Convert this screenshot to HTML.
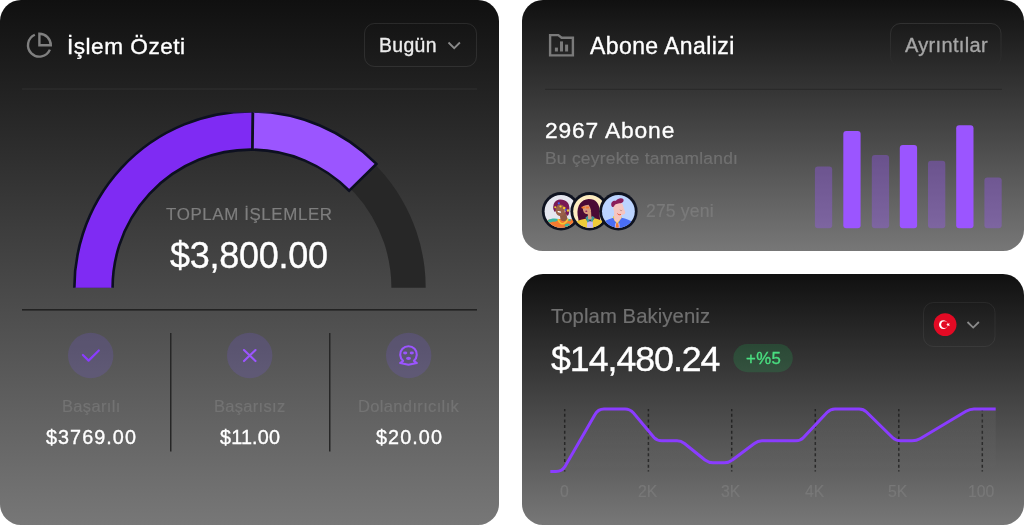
<!DOCTYPE html>
<html lang="tr"><head><meta charset="utf-8"><title>Dashboard</title>
<style>
html,body{margin:0;padding:0;}
body{width:1024px;height:525px;background:#fff;position:relative;overflow:hidden;font-family:"Liberation Sans",sans-serif;}
.card{position:absolute;border-radius:21px;background:linear-gradient(180deg,#101010 0%,#777777 100%);overflow:hidden;}
.t{position:absolute;white-space:nowrap;line-height:1;transform:scale(0.5);transform-origin:0 0;}
#txt{position:absolute;left:0;top:0;width:1024px;height:525px;will-change:transform;}
.abs{position:absolute;}
svg{position:absolute;overflow:visible;}
</style></head><body>

<div class="card" style="left:0;top:0;width:499px;height:525px;"></div>
<div class="card" style="left:522px;top:0;width:502px;height:251px;"></div>
<div class="card" style="left:522px;top:274px;width:502px;height:251px;"></div>
<svg width="1024" height="525" viewBox="0 0 1024 525" style="left:0;top:0;">
<rect x="22" y="88.5" width="455" height="1" fill="#ffffff" fill-opacity="0.07"/>
<g transform="translate(25.72,31.52) scale(1.14)" fill="none" stroke="#808080" stroke-width="2.1" stroke-linecap="butt" stroke-linejoin="miter"><path d="M21.21 15.89A10 10 0 1 1 8 2.83"/><path d="M22 12A10 10 0 0 0 12 2v10z"/></g>
<rect x="364.5" y="23.5" width="112" height="43" rx="10" fill="none" stroke="#ffffff" stroke-opacity="0.09"/>
<path d="M448.5 42.5 L454.2 48.2 L459.9 42.5" fill="none" stroke="#8a8a8a" stroke-width="1.8"/>
<clipPath id="gclip"><rect x="0" y="112.2" width="499" height="175.5"/></clipPath>
<g clip-path="url(#gclip)">
<path d="M76.57 303.04 A174.9 174.9 0 1 1 425.03 303.04 L390.86 300.05 A140.6 140.6 0 1 0 110.74 300.05 Z" fill="#272727"/>
<path d="M75.07 303.17 A176.4 176.4 0 0 1 252.96 111.41 L252.49 149.61 A138.2 138.2 0 0 0 113.13 299.84 Z" fill="#7f2bf3" stroke="#0d1020" stroke-width="2.6" stroke-linejoin="miter"/>
<path d="M252.96 111.41 A176.4 176.4 0 0 1 376.40 163.94 L349.20 190.76 A138.2 138.2 0 0 0 252.49 149.61 Z" fill="#9b55ff" stroke="#0d1020" stroke-width="2.6" stroke-linejoin="miter"/>
</g>
<rect x="22" y="309" width="455" height="1.6" fill="#222222"/>
<rect x="170" y="333" width="1.5" height="118.5" fill="#262626"/>
<rect x="329" y="333" width="1.5" height="118.5" fill="#262626"/>
<circle cx="90.7" cy="355.5" r="22.7" fill="#7f56ff" fill-opacity="0.17"/>
<circle cx="249.7" cy="355.5" r="22.7" fill="#7f56ff" fill-opacity="0.17"/>
<circle cx="408.7" cy="355.5" r="22.7" fill="#7f56ff" fill-opacity="0.17"/>
<path d="M82.9 355 L88.6 360.6 L98.8 350.5" fill="none" stroke="#8a3cff" stroke-width="2.2" stroke-linecap="round" stroke-linejoin="round"/>
<path d="M244 350 L255.5 361.1 M255.5 350 L244 361.1" fill="none" stroke="#9b55ff" stroke-width="2.1" stroke-linecap="round"/>
<path d="M400.1 363 L403.1 360.8 A8.3 8.3 0 1 1 413.9 360.8 L416.9 363 L408.5 364.7 Z" fill="none" stroke="#9b55ff" stroke-width="2.1" stroke-linejoin="round"/>
<ellipse cx="405.2" cy="353" rx="2.1" ry="1.45" fill="#9b55ff"/><ellipse cx="411.8" cy="353" rx="2.1" ry="1.45" fill="#9b55ff"/><ellipse cx="408.5" cy="358.3" rx="2.5" ry="1.6" fill="#9b55ff"/>
<rect x="545" y="88.8" width="457" height="1" fill="#1a1a1a" fill-opacity="0.45"/>
<path d="M550.1 35.1 H558.3 L561.6 37.8 H572.9 V55.4 H550.1 Z" fill="none" stroke="#7a7a7a" stroke-width="2.4" stroke-linejoin="miter"/>
<rect x="554.9" y="47.6" width="3" height="3.9" fill="#7a7a7a"/><rect x="560" y="41.4" width="3" height="10.1" fill="#7a7a7a"/><rect x="565.1" y="44.6" width="3" height="6.9" fill="#7a7a7a"/>
<defs><linearGradient id="fadeb" x1="0" y1="0" x2="0" y2="1"><stop offset="0" stop-color="#fff" stop-opacity="0.1"/><stop offset="1" stop-color="#fff" stop-opacity="0.0"/></linearGradient></defs>
<rect x="890.5" y="23.5" width="110.5" height="43" rx="10" fill="none" stroke="url(#fadeb)"/>
<rect x="814.9" y="166.4" width="17.3" height="61.9" rx="3" fill="#9b55ff" fill-opacity="0.35"/>
<rect x="843.3" y="131" width="17.3" height="97.3" rx="3" fill="#9b55ff"/>
<rect x="871.8" y="155" width="17.3" height="73.3" rx="3" fill="#9b55ff" fill-opacity="0.35"/>
<rect x="899.8" y="145.1" width="17.3" height="83.2" rx="3" fill="#9b55ff"/>
<rect x="928" y="160.7" width="17.3" height="67.6" rx="3" fill="#9b55ff" fill-opacity="0.35"/>
<rect x="956.2" y="125.3" width="17.3" height="103.0" rx="3" fill="#9b55ff"/>
<rect x="984.4" y="177.6" width="17.3" height="50.7" rx="3" fill="#9b55ff" fill-opacity="0.35"/>
<g transform="translate(561,211.3)"><circle r="19.2" fill="#0f1320"/><clipPath id="c561"><circle r="16.4"/></clipPath><circle r="16.4" fill="#e6e7f0"/><g clip-path="url(#c561)"><g transform="translate(0,-4.300)"><path d="M-16 14 C-12 12 -6 12 -2 12 L8 12 C12 12 15 14 17 16 L17 26 L-17 26Z" fill="#f47a30"/>
<path d="M-13.500 13.500 C-10 11 -5 11.500 -2.500 12 C-3 14.500 -6 15 -8 14.500 C-10 16 -13 15.500 -14.500 14.500Z" fill="#3bb5a0"/>
<path d="M4 17.500 C6 16 8.500 16.500 9 18 L6 20 L3.500 19Z" fill="#3bb5a0"/>
<path d="M6 12 C8 11.500 9.500 12.500 10 14 L7 13.500Z" fill="#3bb5a0"/>
<path d="M-1.500 6 L-0.500 12.500 C1 15 5 14.500 6.500 12 L5 5Z" fill="#8f5a44"/>
<path d="M-3 12 C-2 16 1 17.500 3 16.500 C5.500 15.500 6.500 13.500 7 11.800" fill="none" stroke="#f2c830" stroke-width="1.500"/></g>
<path d="M-7 -1 C-9 -7 -6 -11.500 -1 -11.800 C5 -12 8.500 -8 8.400 -3 C8.400 1 8 4 6.500 4.500 C5 4 4.500 1 4 -2 L-3 -5 L-5.500 0.500Z" fill="#7a1a55"/>
<path d="M-5.500 -5 C-4 -7 0 -7.500 2 -6 C4 -4 4.500 0 3 3 C1.500 5.500 -2 5 -3.800 3.500 C-5.500 2 -6 -2 -5.500 -5Z" fill="#9a6048"/>
<path d="M-7.500 -2 C-8 -6 -5 -9 -2 -8 C-3 -6 -5 -5 -5.500 -2 L-6.500 1Z" fill="#7a1a55"/>
<circle cx="-0.500" cy="-4.800" r="1.100" fill="#f2c830"/><circle cx="3.200" cy="-3.300" r="1.300" fill="#f2c830"/><circle cx="7" cy="-0.800" r="1.200" fill="#f2c830"/><circle cx="-5.800" cy="-4" r="1" fill="#f2c830"/>
<circle cx="-2.200" cy="-8" r="1.100" fill="#3d5ef0"/><circle cx="4.800" cy="-1.600" r="0.900" fill="#3d5ef0"/>
<path d="M-2.800 0.300 L-0.500 0.900" stroke="#fff" stroke-width="1.300" stroke-linecap="round"/></g></g>
<g transform="translate(589.6,211.3)"><circle r="19.2" fill="#0f1320"/><clipPath id="c589"><circle r="16.4"/></clipPath><circle r="16.4" fill="#fdecc0"/><g clip-path="url(#c589)"><path d="M-12 4 C-13 -6 -8 -12 -1 -12.300 C6 -12.500 10 -8 10 0 C10 5 10.500 8 11 11 L-11.500 11 C-10.500 9 -11.500 7 -12 4Z" fill="#4a0a35"/>
<path d="M-17 20 L-17 12 C-12 9 -7 8 -4 7.500 L0 13 L4.800 7 C9 8 13 9 17 12 L17 20Z" fill="#f0cc3a"/>
<path d="M-2.400 10 L3.200 10 L3.500 20 L-2.800 20Z" fill="#c5b9f7"/>
<path d="M-4.200 6.500 L-1.800 11.500 L0.500 8.500 L2.500 11 L5 6 L2 4.500 L-2 4.500Z" fill="#3f9d9a"/>
<path d="M-1.800 1 L-1.500 8 L2 8 L1.800 0Z" fill="#d99a7a"/>
<path d="M-6.800 -4 C-7 -7 -3 -8 0 -7 C2 -5 2 0 0.500 2 C-1 3.500 -4.500 3 -5.800 1 C-6.500 -0.500 -6.800 -2 -6.800 -4Z" fill="#d99a7a"/>
<rect x="-8.200" y="-4.900" width="3.600" height="2.100" rx="1" fill="#f47a30"/><rect x="-4" y="-4.900" width="3.600" height="2.100" rx="1" fill="#f47a30"/>
<path d="M-7 -5 C-6 -9 -1 -10 3 -7 C5 -3 4 3 2 6 C2 1 1.500 -3 -1 -6.500 C-3 -6.500 -5 -6 -7 -5Z" fill="#4a0a35"/>
<ellipse cx="-3.300" cy="-0.100" rx="1.100" ry="0.700" fill="#8a1a60"/></g></g>
<g transform="translate(618.4,211.3)"><circle r="19.2" fill="#0f1320"/><clipPath id="c618"><circle r="16.4"/></clipPath><circle r="16.4" fill="#bcd4ff"/><g clip-path="url(#c618)"><path d="M-17 20 L-17 12 C-12 8.500 -8 7.500 -5 6.500 L-1 12.500 L3 6.500 C8 7.500 12 9 17 12 L17 20Z" fill="#4a6ef5"/>
<path d="M-3.200 12 L1 12 L1.800 20 L-4 20Z" fill="#c5b9f7"/>
<path d="M-5.600 6 L-1.200 13 L3.400 6 L2 4 L-4 4Z" fill="#f0cc3a"/>
<path d="M-2.200 12 L-0.200 12 L0.300 15 L-0.500 20 L-2 20 L-2.600 15Z" fill="#f47a30"/>
<path d="M-4.400 0 L-4.200 9 L-1.200 11.500 L2.800 7 L2.500 2Z" fill="#f5c5c0"/>
<path d="M-5.200 -5 C-5 -8.500 1 -9 4 -7.500 C5 -5 5.500 -2 6.800 0.500 C7.200 2.500 6 3.300 4.300 3.300 C3 4.800 0 5.200 -2 4 C-4 2.500 -5 -1 -5.200 -5Z" fill="#f5c5c0"/>
<path d="M-7 -5.500 C-8 -9.500 -5 -11 -2.500 -10.500 C-1 -13 3 -13.800 4.800 -12.300 C6 -10.500 4.500 -8.500 2 -8 C-0.500 -7.800 -3.500 -7.500 -4.300 -5 C-4.800 -4 -6.500 -4 -7 -5.500Z" fill="#8a1d5a"/>
<path d="M-1 2.300 C0 3.600 1.500 3.800 2.600 3" fill="none" stroke="#e8503a" stroke-width="1"/>
<path d="M1.500 -1.500 C2.200 -0.500 3.200 -0.500 3.800 -1.200" fill="none" stroke="#a06a70" stroke-width="0.600"/></g></g>
<rect x="923.5" y="302.5" width="71.5" height="44" rx="10" fill="none" stroke="#ffffff" stroke-opacity="0.06"/>
<circle cx="945.1" cy="324.6" r="11.4" fill="#e30a24"/>
<circle cx="943.3" cy="324.6" r="4.3" fill="#fff"/><circle cx="944.6" cy="324.6" r="3.4" fill="#e30a24"/>
<polygon points="946.10,324.60 947.52,324.11 947.55,322.60 948.46,323.80 949.90,323.37 949.04,324.60 949.90,325.83 948.46,325.40 947.55,326.60 947.52,325.09" fill="#fff"/>
<path d="M967.5 322 L973.2 327.600 L978.900 322" fill="none" stroke="#8a8a8a" stroke-width="1.800"/>
<rect x="733.3" y="344" width="59.500" height="28.200" rx="14.100" fill="#22c55e" fill-opacity="0.18"/>
<line x1="564.7" y1="409" x2="564.7" y2="471.500" stroke="#1a1a1a" stroke-opacity="0.78" stroke-width="1.500" stroke-dasharray="3 2.65" stroke-dashoffset="0.85"/>
<line x1="648.4" y1="409" x2="648.4" y2="471.500" stroke="#1a1a1a" stroke-opacity="0.78" stroke-width="1.500" stroke-dasharray="3 2.65" stroke-dashoffset="0.85"/>
<line x1="731.7" y1="409" x2="731.7" y2="471.500" stroke="#1a1a1a" stroke-opacity="0.78" stroke-width="1.500" stroke-dasharray="3 2.65" stroke-dashoffset="0.85"/>
<line x1="815.3" y1="409" x2="815.3" y2="471.500" stroke="#1a1a1a" stroke-opacity="0.78" stroke-width="1.500" stroke-dasharray="3 2.65" stroke-dashoffset="0.85"/>
<line x1="898.8" y1="409" x2="898.8" y2="471.500" stroke="#1a1a1a" stroke-opacity="0.78" stroke-width="1.500" stroke-dasharray="3 2.65" stroke-dashoffset="0.85"/>
<line x1="982.3" y1="409" x2="982.3" y2="471.500" stroke="#1a1a1a" stroke-opacity="0.78" stroke-width="1.500" stroke-dasharray="3 2.65" stroke-dashoffset="0.85"/>
<defs><linearGradient id="areaf" x1="0" y1="409" x2="0" y2="471.5" gradientUnits="userSpaceOnUse"><stop offset="0" stop-color="#fff" stop-opacity="0.05"/><stop offset="1" stop-color="#fff" stop-opacity="0"/></linearGradient></defs>
<path d="M550.3 471.500 L556 471.500 Q562 471.500 565 466.500 L595 414.500 Q598 409 604 409 L625 409 Q630 409 633.500 413 L654 437.500 Q657 440.800 662 440.800 L677 440.800 Q681 440.800 684.500 443.500 L705 460 Q709 462.800 713 462.800 L724.500 462.800 Q728.500 462.800 732 460.300 L754 443.800 Q758 440.800 762 440.800 L796 440.800 Q800.500 440.800 803.500 437.500 L827 412.500 Q830.500 409 835 409 L859 409 Q863.500 409 866.500 412 L892.500 437.500 Q896 440.800 900.500 440.800 L912 440.800 Q916.500 440.800 920 438.800 L966 411.300 Q970 409 974 409 L995.700 409 L995.700 471.500 L550.3 471.500Z" fill="url(#areaf)"/>
<path d="M550.3 471.500 L556 471.500 Q562 471.500 565 466.500 L595 414.500 Q598 409 604 409 L625 409 Q630 409 633.500 413 L654 437.500 Q657 440.800 662 440.800 L677 440.800 Q681 440.800 684.500 443.500 L705 460 Q709 462.800 713 462.800 L724.500 462.800 Q728.500 462.800 732 460.300 L754 443.800 Q758 440.800 762 440.800 L796 440.800 Q800.500 440.800 803.500 437.500 L827 412.500 Q830.500 409 835 409 L859 409 Q863.500 409 866.500 412 L892.500 437.500 Q896 440.800 900.500 440.800 L912 440.800 Q916.500 440.800 920 438.800 L966 411.300 Q970 409 974 409 L995.700 409" fill="none" stroke="#8a3cff" stroke-width="3" stroke-linejoin="round"/>
</svg>
<div id="txt">
<div class="t" style="left:67.42px;top:34.95px;font-size:45.20px;color:#ffffff;letter-spacing:1.015px;-webkit-text-stroke:0.7px currentColor;">İşlem Özeti</div>
<div class="t" style="left:378.61px;top:35.55px;font-size:38.80px;color:#ececec;letter-spacing:0.719px;-webkit-text-stroke:0.7px currentColor;">Bugün</div>
<div class="t" style="left:165.83px;top:205.55px;font-size:33.80px;color:#7e7e7e;letter-spacing:1.226px;-webkit-text-stroke:0.4px currentColor;">TOPLAM İŞLEMLER</div>
<div class="t" style="left:170.44px;top:236.50px;font-size:72.00px;color:#ffffff;letter-spacing:-0.530px;-webkit-text-stroke:0.7px currentColor;">$3,800.00</div>
<div class="t" style="left:61.70px;top:398.00px;font-size:33.00px;color:#737373;letter-spacing:0.651px;-webkit-text-stroke:0.4px currentColor;">Başarılı</div>
<div class="t" style="left:214.05px;top:398.00px;font-size:33.00px;color:#737373;letter-spacing:0.597px;-webkit-text-stroke:0.4px currentColor;">Başarısız</div>
<div class="t" style="left:357.60px;top:398.00px;font-size:33.00px;color:#737373;letter-spacing:0.698px;-webkit-text-stroke:0.4px currentColor;">Dolandırıcılık</div>
<div class="t" style="left:45.80px;top:427.10px;font-size:39.60px;color:#ffffff;letter-spacing:2.105px;-webkit-text-stroke:0.7px currentColor;">$3769.00</div>
<div class="t" style="left:220.00px;top:427.10px;font-size:39.60px;color:#ffffff;letter-spacing:0.345px;-webkit-text-stroke:0.7px currentColor;">$11.00</div>
<div class="t" style="left:375.70px;top:427.10px;font-size:39.60px;color:#ffffff;letter-spacing:2.157px;-webkit-text-stroke:0.7px currentColor;">$20.00</div>
<div class="t" style="left:590.25px;top:33.80px;font-size:46.00px;color:#ffffff;letter-spacing:0.818px;-webkit-text-stroke:0.7px currentColor;">Abone Analizi</div>
<div class="t" style="left:904.66px;top:35.00px;font-size:40.00px;color:#a6a6a6;letter-spacing:0.645px;-webkit-text-stroke:0.7px currentColor;">Ayrıntılar</div>
<div class="t" style="left:545.06px;top:118.85px;font-size:45.60px;color:#ffffff;letter-spacing:1.693px;-webkit-text-stroke:0.7px currentColor;">2967 Abone</div>
<div class="t" style="left:544.77px;top:149.30px;font-size:34.80px;color:#707070;letter-spacing:0.510px;-webkit-text-stroke:0.4px currentColor;">Bu çeyrekte tamamlandı</div>
<div class="t" style="left:645.92px;top:201.95px;font-size:35.20px;color:#7a7a7a;letter-spacing:0.292px;-webkit-text-stroke:0.4px currentColor;">275 yeni</div>
<div class="t" style="left:550.95px;top:305.85px;font-size:40.60px;color:#707070;letter-spacing:0.157px;-webkit-text-stroke:0.4px currentColor;">Toplam Bakiyeniz</div>
<div class="t" style="left:551.14px;top:340.65px;font-size:71.40px;color:#ffffff;letter-spacing:-2.039px;-webkit-text-stroke:0.7px currentColor;">$14,480.24</div>
<div class="t" style="left:745.79px;top:349.85px;font-size:33.60px;color:#4ade80;letter-spacing:0.806px;-webkit-text-stroke:0.7px currentColor;">+%5</div>
<div class="t" style="left:559.50px;top:483.60px;font-size:31.60px;color:#787878;letter-spacing:0.000px;-webkit-text-stroke:0.4px currentColor;">0</div>
<div class="t" style="left:637.73px;top:483.60px;font-size:31.60px;color:#787878;letter-spacing:0.000px;-webkit-text-stroke:0.4px currentColor;">2K</div>
<div class="t" style="left:721.32px;top:483.60px;font-size:31.60px;color:#787878;letter-spacing:0.000px;-webkit-text-stroke:0.4px currentColor;">3K</div>
<div class="t" style="left:805.05px;top:483.60px;font-size:31.60px;color:#787878;letter-spacing:0.000px;-webkit-text-stroke:0.4px currentColor;">4K</div>
<div class="t" style="left:888.11px;top:483.60px;font-size:31.60px;color:#787878;letter-spacing:0.000px;-webkit-text-stroke:0.4px currentColor;">5K</div>
<div class="t" style="left:968.02px;top:483.60px;font-size:31.60px;color:#787878;letter-spacing:0.000px;-webkit-text-stroke:0.4px currentColor;">100</div>
</div>
</body></html>
